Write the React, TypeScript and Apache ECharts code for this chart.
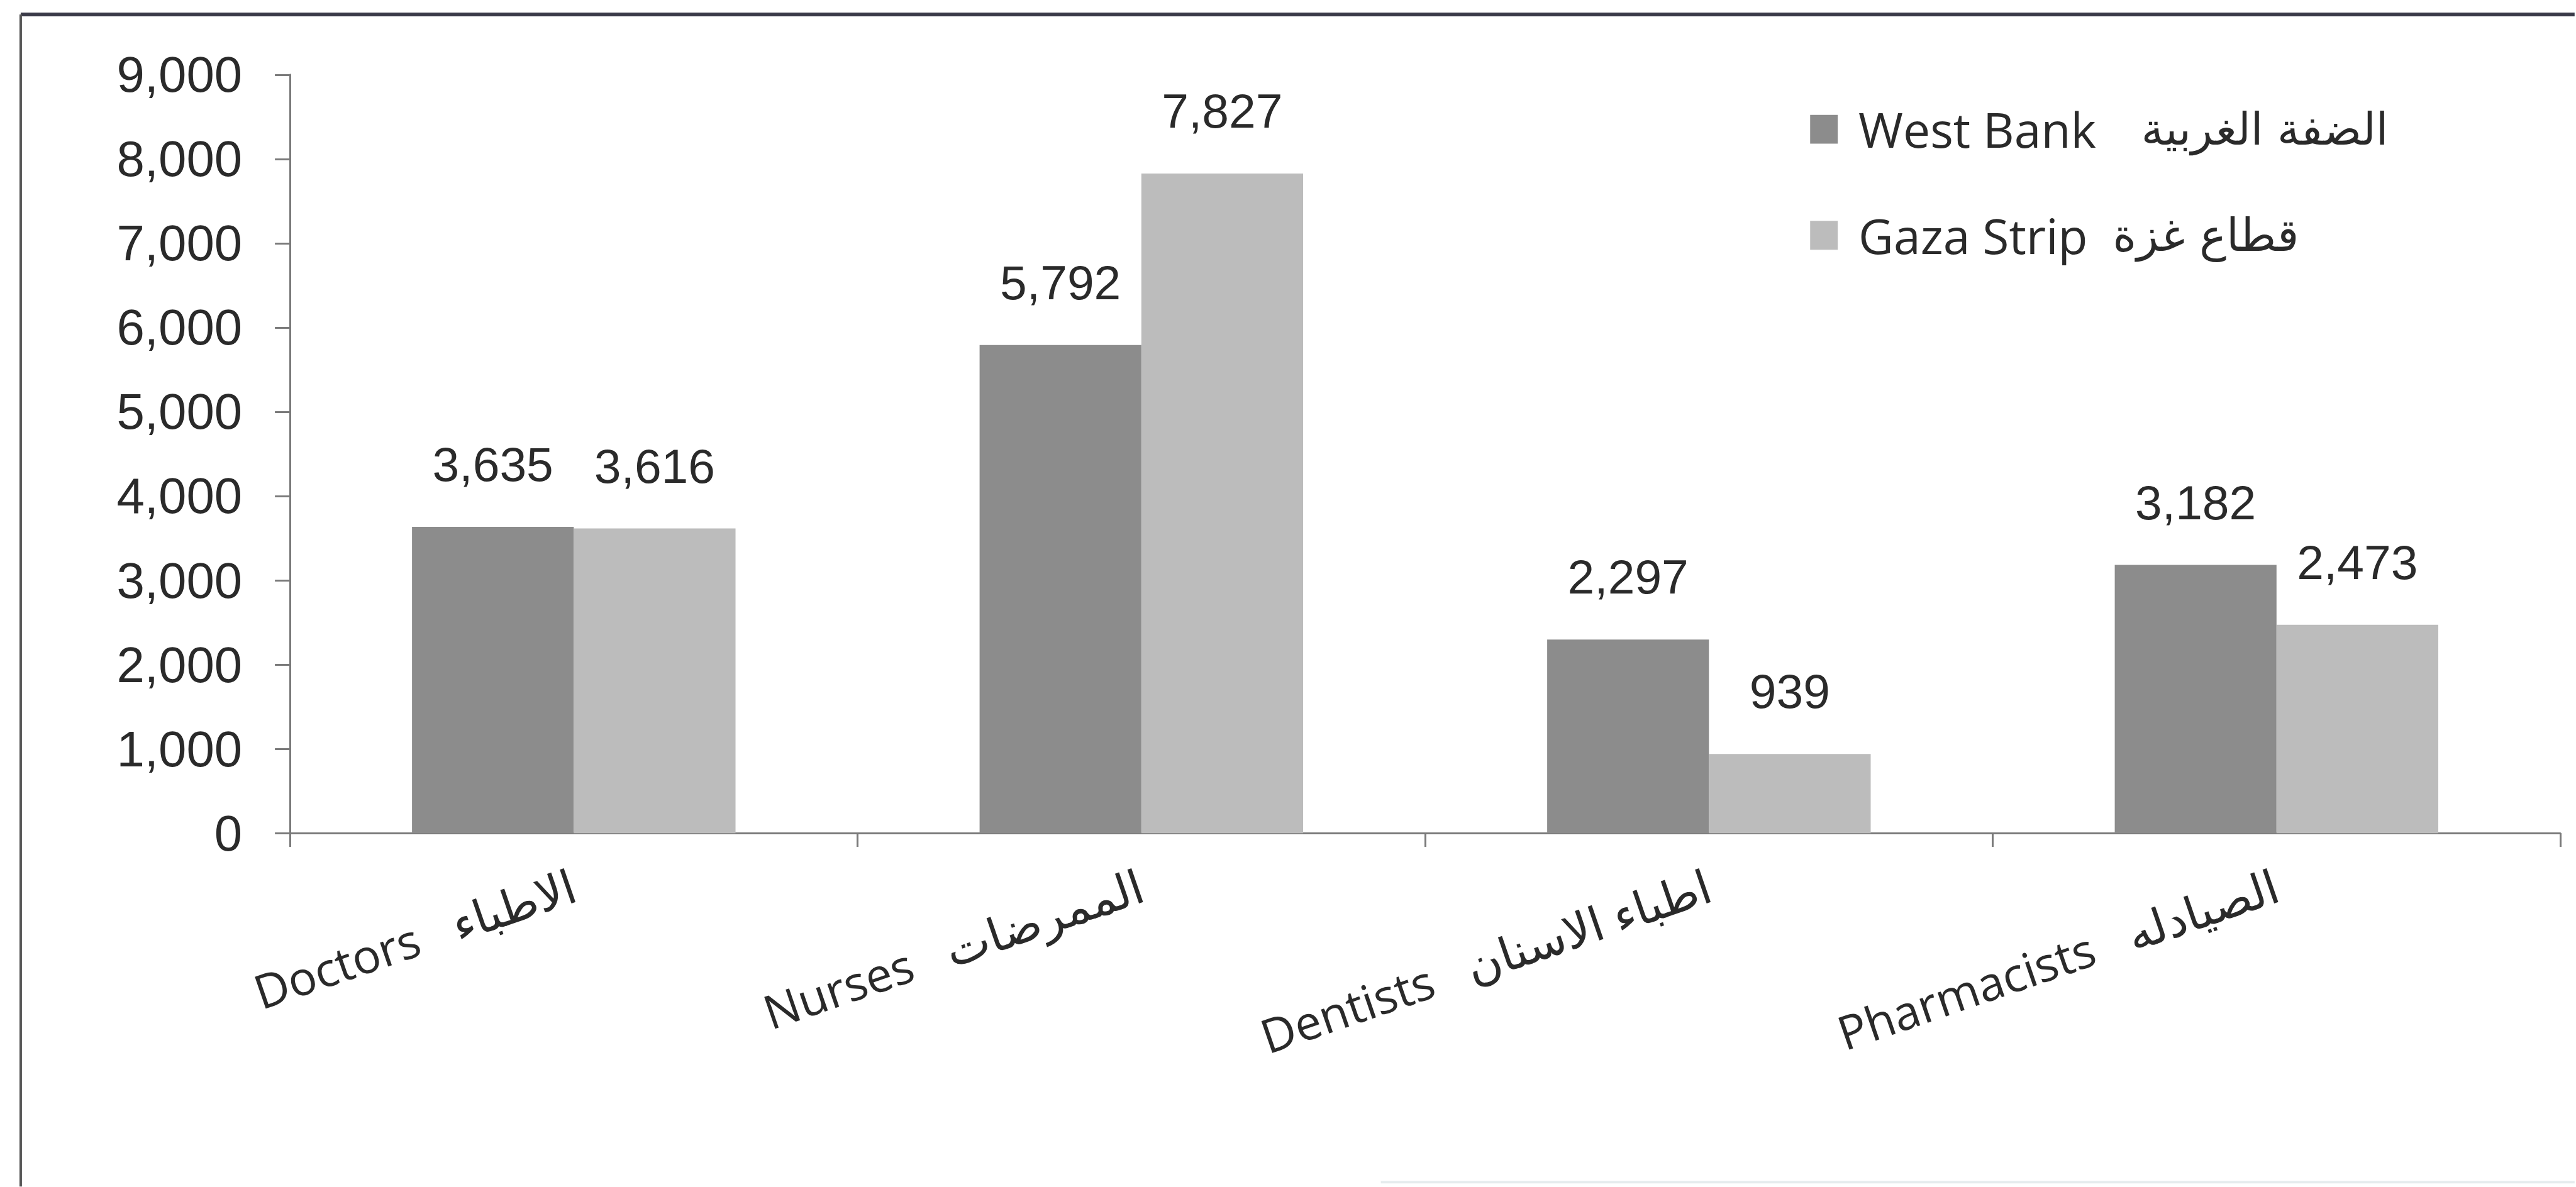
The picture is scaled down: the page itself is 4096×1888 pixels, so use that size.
import React, { useEffect, useRef } from "react";
import * as echarts from "echarts";

const S = 0.998;

const categoriesEn = ["Doctors", "Nurses", "Dentists", "Pharmacists"];
const categoriesAr = ["الاطباء", "الممرضات", "اطباء الاسنان", "الصيادله"];
const seriesEn = ["West Bank", "Gaza Strip"];
const seriesAr = ["الضفة الغربية", "قطاع غزة"];
const westBank = [3635, 5792, 2297, 3182];
const gazaStrip = [3616, 7827, 939, 2473];
const yMin = 0;
const yMax = 9000;
const yInterval = 1000;

const TEXT = "#2a2a2a";
const AXIS = "#7a7a7a";
const NUM_FONT = "'Liberation Sans', Arial, sans-serif";
const TXT_FONT = "'Open Sans', 'DejaVu Sans', sans-serif";
const AR_FONT = "'DejaVu Sans', 'Noto Sans', sans-serif";

const fmt = (v: number) => Number(v).toLocaleString("en-US");

export default function App() {
  const ref = useRef<HTMLDivElement>(null);
  useEffect(() => {
    if (!ref.current) return;
    const chart = echarts.init(ref.current, null, { renderer: "svg" });
    const labels = categoriesEn.map((en, i) => en + "\u00a0\u00a0\u00a0" + categoriesAr[i]);
    const seriesNames = seriesEn.map((en, i) => en + " " + seriesAr[i]);
    const barLabel = {
      show: true,
      position: "top",
      distance: 56 * S,
      formatter: (p: any) => fmt(p.value),
      fontSize: 77 * S,
      lineHeight: 88 * S,
      fontFamily: NUM_FONT,
      color: TEXT,
    };
    chart.setOption({
      animation: false,
      backgroundColor: "#ffffff",
      graphic: [
        {
          type: "line",
          shape: { x1: 33 * S, y1: 23 * S, x2: 4102 * S, y2: 23 * S },
          style: { stroke: "#3a3a48", lineWidth: 6 * S },
        },
        {
          type: "line",
          shape: { x1: 33 * S, y1: 23 * S, x2: 33 * S, y2: 1891 * S },
          style: { stroke: "#555555", lineWidth: 4 * S },
        },
        {
          type: "line",
          shape: { x1: 2200 * S, y1: 1884 * S, x2: 4102 * S, y2: 1884 * S },
          style: { stroke: "#e6ecee", lineWidth: 4 * S },
        },
      ],
      legend: {
        orient: "vertical",
        left: 2879 * S,
        top: 156 * S,
        icon: "rect",
        itemWidth: 44 * S,
        itemHeight: 46 * S,
        itemGap: 79 * S,
        formatter: (name: string) => {
          const i = seriesNames.indexOf(name);
          return "{en|" + seriesEn[i] + "}{ar" + i + "|" + seriesAr[i] + "}";
        },
        textStyle: {
          fontSize: 77 * S,
          lineHeight: 90 * S,
          fontFamily: TXT_FONT,
          color: TEXT,
          rich: {
            en: {
              fontSize: 77 * S,
              lineHeight: 90 * S,
              fontFamily: TXT_FONT,
              color: TEXT,
              padding: [0, 0, 0, 28 * S],
            },
            ar0: {
              fontSize: 71 * S,
              lineHeight: 90 * S,
              fontFamily: AR_FONT,
              color: TEXT,
              padding: [0, 0, 0, 72 * S],
            },
            ar1: {
              fontSize: 72 * S,
              lineHeight: 90 * S,
              fontFamily: AR_FONT,
              color: TEXT,
              padding: [0, 0, 0, 40 * S],
            },
          },
        },
        data: seriesNames,
      },
      grid: {
        left: 462 * S,
        right: 25 * S,
        top: 119 * S,
        bottom: 564 * S,
        containLabel: false,
      },
      xAxis: {
        type: "category",
        data: labels,
        axisLine: { lineStyle: { color: AXIS, width: 3 * S } },
        axisTick: { show: true, length: 22 * S, lineStyle: { color: AXIS, width: 3 * S } },
        axisLabel: {
          interval: 0,
          rotate: 19,
          margin: 80 * S,
          fontSize: 75 * S,
          fontFamily: TXT_FONT,
          color: TEXT,
        },
      },
      yAxis: {
        type: "value",
        min: yMin,
        max: yMax,
        interval: yInterval,
        axisLine: { show: true, lineStyle: { color: AXIS, width: 3 * S } },
        axisTick: { show: true, length: 24 * S, lineStyle: { color: AXIS, width: 3 * S } },
        splitLine: { show: false },
        axisLabel: {
          formatter: (v: number) => fmt(v),
          margin: 76 * S,
          fontSize: 80 * S,
          fontFamily: NUM_FONT,
          color: TEXT,
        },
      },
      series: [
        {
          name: seriesNames[0],
          type: "bar",
          data: westBank,
          barGap: "0%",
          barCategoryGap: "43%",
          itemStyle: { color: "#8c8c8c" },
          label: barLabel,
        },
        {
          name: seriesNames[1],
          type: "bar",
          data: gazaStrip,
          barGap: "0%",
          barCategoryGap: "43%",
          itemStyle: { color: "#bcbcbc" },
          label: barLabel,
        },
      ],
    });
    return () => chart.dispose();
  }, []);
  return (
    <div
      ref={ref}
      style={{ position: "fixed", left: 0, top: 0, width: 4096, height: 1888, background: "#fff" }}
    />
  );
}
